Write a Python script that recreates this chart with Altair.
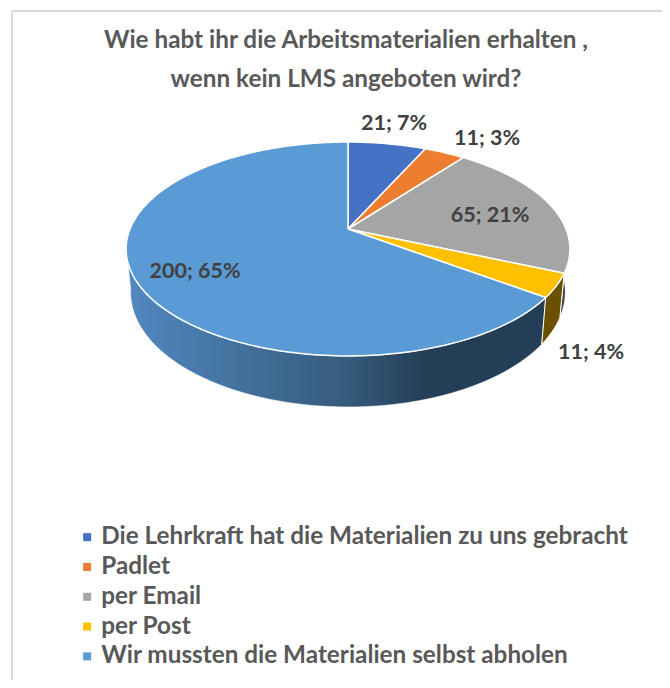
import math
import altair as alt
import pandas as pd

categories = ["Die Lehrkraft hat die Materialien zu uns gebracht", "Padlet", "per Email", "per Post",
              "Wir mussten die Materialien selbst abholen"]
values = [21, 11, 65, 11, 200]
percents = [7, 3, 21, 4, 65]
colors = ["#4472C4", "#ED7D31", "#A5A5A5", "#FFC000", "#5B9BD5"]
label_x = [46, 139, 142, 243, -153]
label_y = [105.5, 90, 13, -123.5, -43]

FONT = "Lato"
A, B, C, DEPTH, SHRINK = 218.0, 103.2, 0.187, 41.5, 0.98


def top(theta):
    u, v = math.sin(theta), math.cos(theta)
    w = 1 + C * v
    return A * u / w, B * v / w


def bottom(theta):
    x, y = top(theta)
    return SHRINK * x, y - DEPTH / (1 + C * math.cos(theta))


total = sum(values)
edges = [0.0]
for val in values:
    edges.append(edges[-1] + val / total * 2 * math.pi)


def sweep(a0, a1, step=0.02):
    n = max(2, int((a1 - a0) / step) + 1)
    return [a0 + (a1 - a0) * i / (n - 1) for i in range(n)]


top_rows = []
for k, cat in enumerate(categories):
    pts = [(0.0, 0.0)] + [top(t) for t in sweep(edges[k], edges[k + 1])] + [(0.0, 0.0)]
    for i, (x, y) in enumerate(pts):
        top_rows.append({"cat": cat, "x": x, "y": y, "o": i})
top_df = pd.DataFrame(top_rows)


def wall(a0, a1):
    ts = sweep(a0, a1)
    pts = [top(t) for t in ts] + [bottom(t) for t in reversed(ts)]
    pts.append(pts[0])
    return pd.DataFrame([{"x": x, "y": y, "o": i} for i, (x, y) in enumerate(pts)])


x_enc = alt.X("x:Q", axis=None, scale=alt.Scale(domain=[-340, 314], nice=False, zero=False))
y_enc = alt.Y("y:Q", axis=None, scale=alt.Scale(domain=[-451, 221], nice=False, zero=False))
order = alt.Order("o:Q")

blue_grad = alt.Gradient(
    gradient="linear", x1=0, x2=1, y1=0, y2=0,
    stops=[alt.GradientStop(offset=0, color="#5189C0"),
           alt.GradientStop(offset=0.52, color="#365B7D"),
           alt.GradientStop(offset=0.72, color="#233E56"),
           alt.GradientStop(offset=1, color="#233E56")],
)
wall_blue = alt.Chart(wall(edges[4], edges[4] + 2.35)).mark_line(
    fill=blue_grad, stroke="#FFFFFF", strokeWidth=0.6).encode(x=x_enc, y=y_enc, order=order)
wall_yellow = alt.Chart(wall(edges[3], edges[4])).mark_line(
    fill="#695100", stroke="#FFFFFF", strokeWidth=1).encode(x=x_enc, y=y_enc, order=order)
wall_grey = alt.Chart(wall(edges[2] - 0.22, edges[3])).mark_line(
    fill="#474747", stroke="#FFFFFF", strokeWidth=1).encode(x=x_enc, y=y_enc, order=order)

slices = alt.Chart(top_df).mark_line(stroke="#FFFFFF", strokeWidth=1.5, strokeJoin="round").encode(
    x=x_enc, y=y_enc, order=order,
    fill=alt.Fill("cat:N", scale=alt.Scale(domain=categories, range=colors),
                  legend=alt.Legend(
                      orient="none", legendX=67, legendY=517, title=None, symbolType="square",
                      symbolSize=64, symbolStrokeWidth=0, labelFont=FONT, labelFontSize=24.3,
                      labelFontWeight="bold", labelColor="#595959", rowPadding=4.8, labelLimit=600,
                      labelOffset=2, symbolOffset=0)),
)

label_df = pd.DataFrame({
    "text": [f"{v}; {p}%" for v, p in zip(values, percents)],
    "x": label_x, "y": label_y,
})
labels = alt.Chart(label_df).mark_text(
    font=FONT, fontSize=21.5, fontWeight="bold", color="#404040", align="center", baseline="middle"
).encode(x=x_enc, y=y_enc, text="text:N")

frame_top = alt.Chart(pd.DataFrame({"a": [0]})).mark_rule(color="#D9D9D9", strokeWidth=2).encode(
    x=alt.value(4), x2=alt.value(654), y=alt.value(3))
frame_left = alt.Chart(pd.DataFrame({"a": [0]})).mark_rule(color="#D9D9D9", strokeWidth=2).encode(
    x=alt.value(4), y=alt.value(3), y2=alt.value(672))

chart = alt.layer(frame_top, frame_left, wall_blue, wall_grey, wall_yellow, slices, labels).properties(
    width=654, height=672, padding=0, autosize=alt.AutoSizeParams(type="none"),
    title=alt.TitleParams(
        text=["Wie habt ihr die Arbeitsmaterialien erhalten ,", "wenn kein LMS angeboten wird?"],
        font=FONT, fontSize=24.3, fontWeight="bold", color="#595959", anchor="middle",
        lineHeight=39, dx=11, dy=84.5, baseline="top", offset=0),
).configure_view(stroke=None)

chart.save("out.html", embed_options={"renderer": "svg", "actions": False})
